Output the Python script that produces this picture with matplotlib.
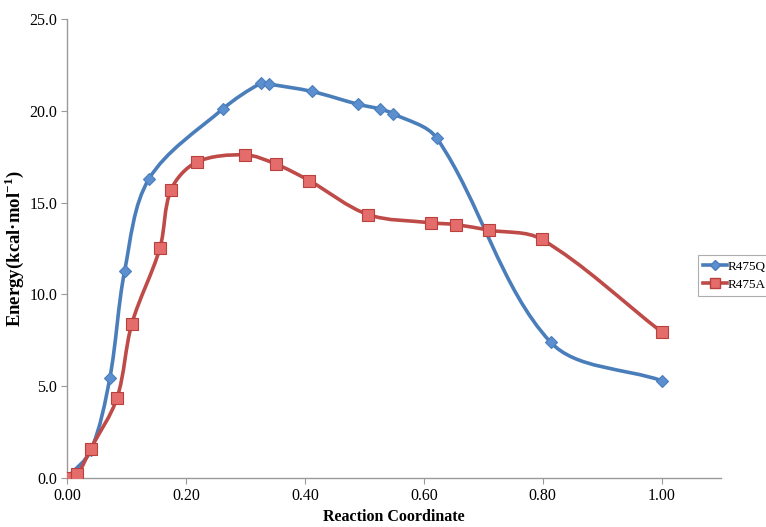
import matplotlib
matplotlib.use("Agg")
import matplotlib.pyplot as plt
import numpy as np
from matplotlib.path import Path
from matplotlib.patches import PathPatch
from matplotlib.lines import Line2D

plt.rcParams['font.family'] = ['Liberation Serif', 'DejaVu Serif']
plt.rcParams['mathtext.fontset'] = 'custom'
plt.rcParams['mathtext.rm'] = 'Liberation Serif'
plt.rcParams['mathtext.bf'] = 'Liberation Serif:bold'

# data
q_x = [0.0, 0.04, 0.072, 0.097, 0.138, 0.262, 0.326, 0.340, 0.412, 0.490, 0.526, 0.548, 0.622, 0.813, 1.0]
q_y = [0.0, 1.5, 5.45, 11.3, 16.3, 20.1, 21.5, 21.45, 21.05, 20.35, 20.1, 19.85, 18.5, 7.4, 5.3]

a_x = [0.0, 0.017, 0.040, 0.084, 0.109, 0.156, 0.175, 0.218, 0.299, 0.351, 0.407, 0.506, 0.612, 0.654, 0.709, 0.798, 1.0]
a_y = [0.0, 0.2, 1.6, 4.35, 8.4, 12.5, 15.7, 17.2, 17.6, 17.1, 16.2, 14.35, 13.9, 13.8, 13.5, 13.0, 7.95]

x_ticks = [0.0, 0.2, 0.4, 0.6, 0.8, 1.0]
y_ticks = [0, 5, 10, 15, 20, 25]


def smooth_path(xs, ys, sx=595.0, sy=18.4):
    # smoothed line like Excel's: cubic bezier through the points,
    # tangents weighted by chord length (measured roughly in pixels)
    p = np.column_stack([xs, ys])
    s = np.array([sx, sy])
    n = len(p)
    d = [np.hypot(*((p[i + 1] - p[i]) * s)) for i in range(n - 1)]
    tang = []
    for i in range(n):
        if i == 0:
            tang.append(p[1] - p[0])
        elif i == n - 1:
            tang.append(p[-1] - p[-2])
        else:
            tang.append((p[i + 1] - p[i - 1]) / (d[i - 1] + d[i]))
    verts = [p[0]]
    codes = [Path.MOVETO]
    for i in range(n - 1):
        t0 = tang[i] * (d[i] if 0 < i else 1.0)
        t1 = tang[i + 1] * (d[i] if i + 1 < n - 1 else 1.0)
        c1 = p[i] + t0 / 3.0
        c2 = p[i + 1] - t1 / 3.0
        verts += [c1, c2, p[i + 1]]
        codes += [Path.CURVE4] * 3
    return Path(verts, codes)


fig = plt.figure(figsize=(7.66, 5.27), dpi=100)
ax = fig.add_axes([0.0875, 0.093, 0.854, 0.871])

blue_line = '#4A7EBB'
red_line = '#BE4B48'

ax.add_patch(PathPatch(smooth_path(q_x, q_y), fill=False, edgecolor=blue_line, lw=2.6, zorder=2))
ax.add_patch(PathPatch(smooth_path(a_x, a_y), fill=False, edgecolor=red_line, lw=2.6, zorder=2))
ax.plot(q_x, q_y, ls='none', marker='D', ms=6, mfc='#5B8FD0', mec='#4A7EBB', mew=0.8, zorder=3)
ax.plot(a_x, a_y, ls='none', marker='s', ms=8, mfc='#E46C6A', mec='#B9403C', mew=0.8, zorder=4)

ax.set_xlim(0, 1.1)
ax.set_ylim(0, 25)
ax.set_xticks(x_ticks)
ax.set_yticks(y_ticks)
ax.set_xticklabels([f'{v:.2f}' for v in x_ticks], fontsize=11.5)
ax.set_yticklabels([f'{v:.1f}' for v in y_ticks], fontsize=11.5)
for s in ['top', 'right']:
    ax.spines[s].set_visible(False)
for s in ['left', 'bottom']:
    ax.spines[s].set_color('#9A9A9A')
    ax.spines[s].set_linewidth(1.0)
ax.tick_params(direction='out', length=4, color='#9A9A9A', pad=3)

ax.set_xlabel('Reaction Coordinate', fontsize=11.5, fontweight='bold', labelpad=4)
ax.set_ylabel('Energy(kcal·mol$^{\\mathbf{-1}}$)', fontsize=13.5, fontweight='bold')
ax.yaxis.set_label_coords(-0.063, 0.5)

handles = [
    Line2D([], [], color=blue_line, lw=2.6, marker='D', ms=5, mfc='#5B8FD0', mec='#4A7EBB'),
    Line2D([], [], color=red_line, lw=2.6, marker='s', ms=7, mfc='#E46C6A', mec='#B9403C'),
]
leg = fig.legend(handles, ['R475Q', 'R475A'], loc='upper left', bbox_to_anchor=(0.911, 0.516),
                 fontsize=9.5, frameon=True, fancybox=False, handlelength=1.8, handletextpad=0.05,
                 borderpad=0.4, labelspacing=0.45, borderaxespad=0)
leg.get_frame().set_edgecolor('#9A9A9A')
leg.get_frame().set_linewidth(0.8)

fig.savefig('out.png', dpi=100)
